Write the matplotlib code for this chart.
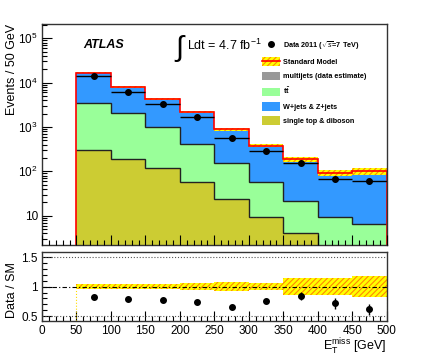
import numpy as np
import matplotlib
matplotlib.use("Agg")
import matplotlib.pyplot as plt
from matplotlib.patches import Patch
from matplotlib.lines import Line2D
from matplotlib.ticker import FixedLocator, MultipleLocator, FixedFormatter

plt.rcParams['font.family'] = ['Liberation Sans', 'DejaVu Sans']
plt.rcParams['mathtext.fontset'] = 'custom'
plt.rcParams['mathtext.rm'] = 'Liberation Sans'
plt.rcParams['mathtext.it'] = 'Liberation Sans:italic'
plt.rcParams['mathtext.bf'] = 'Liberation Sans:bold'
plt.rcParams['hatch.linewidth'] = 0.8

# ---------------- data ----------------
bin_edges = [50, 100, 150, 200, 250, 300, 350, 400, 450, 500]
multijets = [0.9, 0.5, 0.3, 0.2, 0.1, 0.05, 0.03, 0.02, 0.02]
single_top = [295, 188, 118, 56, 24, 9.3, 4.1, 1.2, 0.8]
ttbar = [3150, 1860, 900, 360, 130, 47, 17, 8, 5.7]
wz_jets = [13400, 5840, 3340, 1800, 740, 325, 167, 83, 94]
data = [14000, 6180, 3370, 1640, 578, 288, 158, 66, 62]
ratio_err = [0.007, 0.01, 0.015, 0.02, 0.03, 0.04, 0.075, 0.095, 0.095]
sm_rel_unc = [0.045, 0.045, 0.045, 0.06, 0.08, 0.065, 0.145, 0.15, 0.18]

edges = np.array(bin_edges, float)
centers = 0.5 * (edges[:-1] + edges[1:])
widths = np.diff(edges)
mj = np.array(multijets)
st = np.array(single_top)
tt = np.array(ttbar)
wz = np.array(wz_jets)
d = np.array(data, float)
l1 = mj + st
l2 = l1 + tt
total = l2 + wz
unc = np.array(sm_rel_unc)
ratio = d / total
rerr = np.array(ratio_err)

C_BLUE = '#3399FF'
C_GREEN = '#99FF99'
C_OLIVE = '#CCCC33'
C_GREY = '#999999'
C_HATCH = '#FF8800'

fig = plt.figure(figsize=(4.34, 3.56), dpi=100)
ax = fig.add_axes([0.0968, 0.312, 0.7942, 0.6206])
rx = fig.add_axes([0.0968, 0.0983, 0.7942, 0.1947])

ymin, ymax = 2.2, 2.1e5
ax.set_yscale('log')
# stacked fills
ax.stairs(total, edges, baseline=1e-3, fill=True, color=C_BLUE, lw=0)
ax.stairs(l2, edges, baseline=1e-3, fill=True, color=C_GREEN, lw=0)
ax.stairs(l1, edges, baseline=1e-3, fill=True, color=C_OLIVE, lw=0)
ax.stairs(mj, edges, baseline=1e-3, fill=True, color=C_GREY, lw=0)
ax.stairs(l1, edges, baseline=None, color='#222222', lw=1.0)
ax.stairs(l2, edges, baseline=None, color='#222222', lw=1.0)
# SM uncertainty band
ax.bar(centers, total * 2 * unc, bottom=total * (1 - unc), width=widths,
       color='#FFFF00', edgecolor=C_HATCH, hatch='//////', lw=0)
ax.stairs(total, edges, baseline=1e-3, color='red', lw=1.2)
# data
ax.errorbar(centers, d, xerr=widths / 2, yerr=rerr * total, fmt='o', color='black',
            ms=4, lw=1, capsize=0)

ax.set_xlim(0, 500)
ax.set_ylim(ymin, ymax)
ax.xaxis.set_major_locator(MultipleLocator(50))
ax.xaxis.set_minor_locator(MultipleLocator(10))
ax.set_xticklabels([])
ax.yaxis.set_major_locator(FixedLocator([10, 100, 1000, 1e4, 1e5]))
ax.yaxis.set_major_formatter(FixedFormatter(['10', '$10^2$', '$10^3$', '$10^4$', '$10^5$']))
ax.yaxis.set_minor_locator(FixedLocator([k * 10 ** e for e in range(0, 6) for k in range(2, 10)]))
ax.yaxis.set_minor_formatter(FixedFormatter([]))
ax.tick_params(which='both', direction='in', top=False, right=False, labelsize=8.5, pad=3)
ax.tick_params(which='major', length=7, width=0.8)
ax.tick_params(which='minor', length=3.5, width=0.8)
ax.set_ylabel('Events / 50 GeV', fontsize=9, loc='top')
ax.yaxis.set_label_coords(-0.071, 1.0)
for s in ax.spines.values():
    s.set_linewidth(1.0)
    s.set_color('#333333')
ax.set_axisbelow(False)

ax.text(0.119, 0.905, 'ATLAS', transform=ax.transAxes, fontsize=9, fontweight='bold',
        fontstyle='italic', va='center', ha='left')
ax.text(0.383, 0.89, r'$\int$', transform=ax.transAxes, fontsize=21, va='center', ha='left')
ax.text(0.42, 0.905, r'Ldt = 4.7 fb$^{\mathregular{-1}}$', transform=ax.transAxes,
        fontsize=9, va='center', ha='left')

handles = [
    Line2D([], [], marker='o', color='black', ls='none', ms=4),
    (Patch(facecolor='#FFFF00', edgecolor=C_HATCH, hatch='//////', lw=0),
     Line2D([], [], color='red', lw=1.2)),
    Patch(facecolor=C_GREY, lw=0),
    Patch(facecolor=C_GREEN, lw=0),
    Patch(facecolor=C_BLUE, lw=0),
    Patch(facecolor=C_OLIVE, lw=0),
]
labels = ['Data 2011 ($\\sqrt{s}$=7 TeV)', 'Standard Model', 'multijets (data estimate)',
          r'$\mathbf{t\bar{t}}$', 'W+jets & Z+jets', 'single top & diboson']
leg = ax.legend(handles, labels, loc='upper left', bbox_to_anchor=(0.638, 0.93),
                frameon=False, prop={'size': 5.2, 'weight': 'bold'},
                handlelength=2.55, handleheight=1.5, labelspacing=0.75,
                handletextpad=0.4, borderpad=0, borderaxespad=0)

# ratio panel
rx.bar(centers, 2 * unc, bottom=1 - unc, width=widths, color='#FFFF00',
       edgecolor=C_HATCH, hatch='//////', lw=0)
rx.axhline(1.5, color='#555555', ls=':', lw=0.8)
rx.axhline(0.5, color='#555555', ls=':', lw=0.8)
rx.axhline(1.0, color='black', ls=(0, (4, 2, 1, 2)), lw=0.8)
rx.plot([edges[0], edges[0]], [0.41, 1 - unc[0]], color='#FFDD00', ls=':', lw=0.8)
rx.plot([edges[-1], edges[-1]], [0.41, 1 - unc[-1]], color='#FFDD00', ls=':', lw=0.8)
rx.errorbar(centers, ratio, yerr=rerr, fmt='o', color='black', ms=4, lw=1, capsize=0)
rx.set_xlim(0, 500)
rx.set_ylim(0.415, 1.595)
rx.xaxis.set_major_locator(MultipleLocator(50))
rx.xaxis.set_minor_locator(MultipleLocator(10))
rx.yaxis.set_major_locator(FixedLocator([0.5, 1.0, 1.5]))
rx.yaxis.set_major_formatter(FixedFormatter(['0.5', '1', '1.5']))
rx.yaxis.set_minor_locator(MultipleLocator(0.1))
rx.tick_params(which='both', direction='in', top=False, right=False, labelsize=8.5, pad=3)
rx.tick_params(which='major', length=7, width=0.8)
rx.tick_params(which='minor', length=3.5, width=0.8)
for s in rx.spines.values():
    s.set_linewidth(1.0)
    s.set_color('#333333')
rx.set_ylabel('Data / SM', fontsize=9)
rx.yaxis.set_label_coords(-0.071, 0.45)
rx.set_xlabel(r'E$_{\mathregular{T}}^{\mathregular{miss}}$ [GeV]', fontsize=9, loc='right')
rx.xaxis.set_label_coords(1.0, -0.235)

fig.savefig('out.png', dpi=100)
